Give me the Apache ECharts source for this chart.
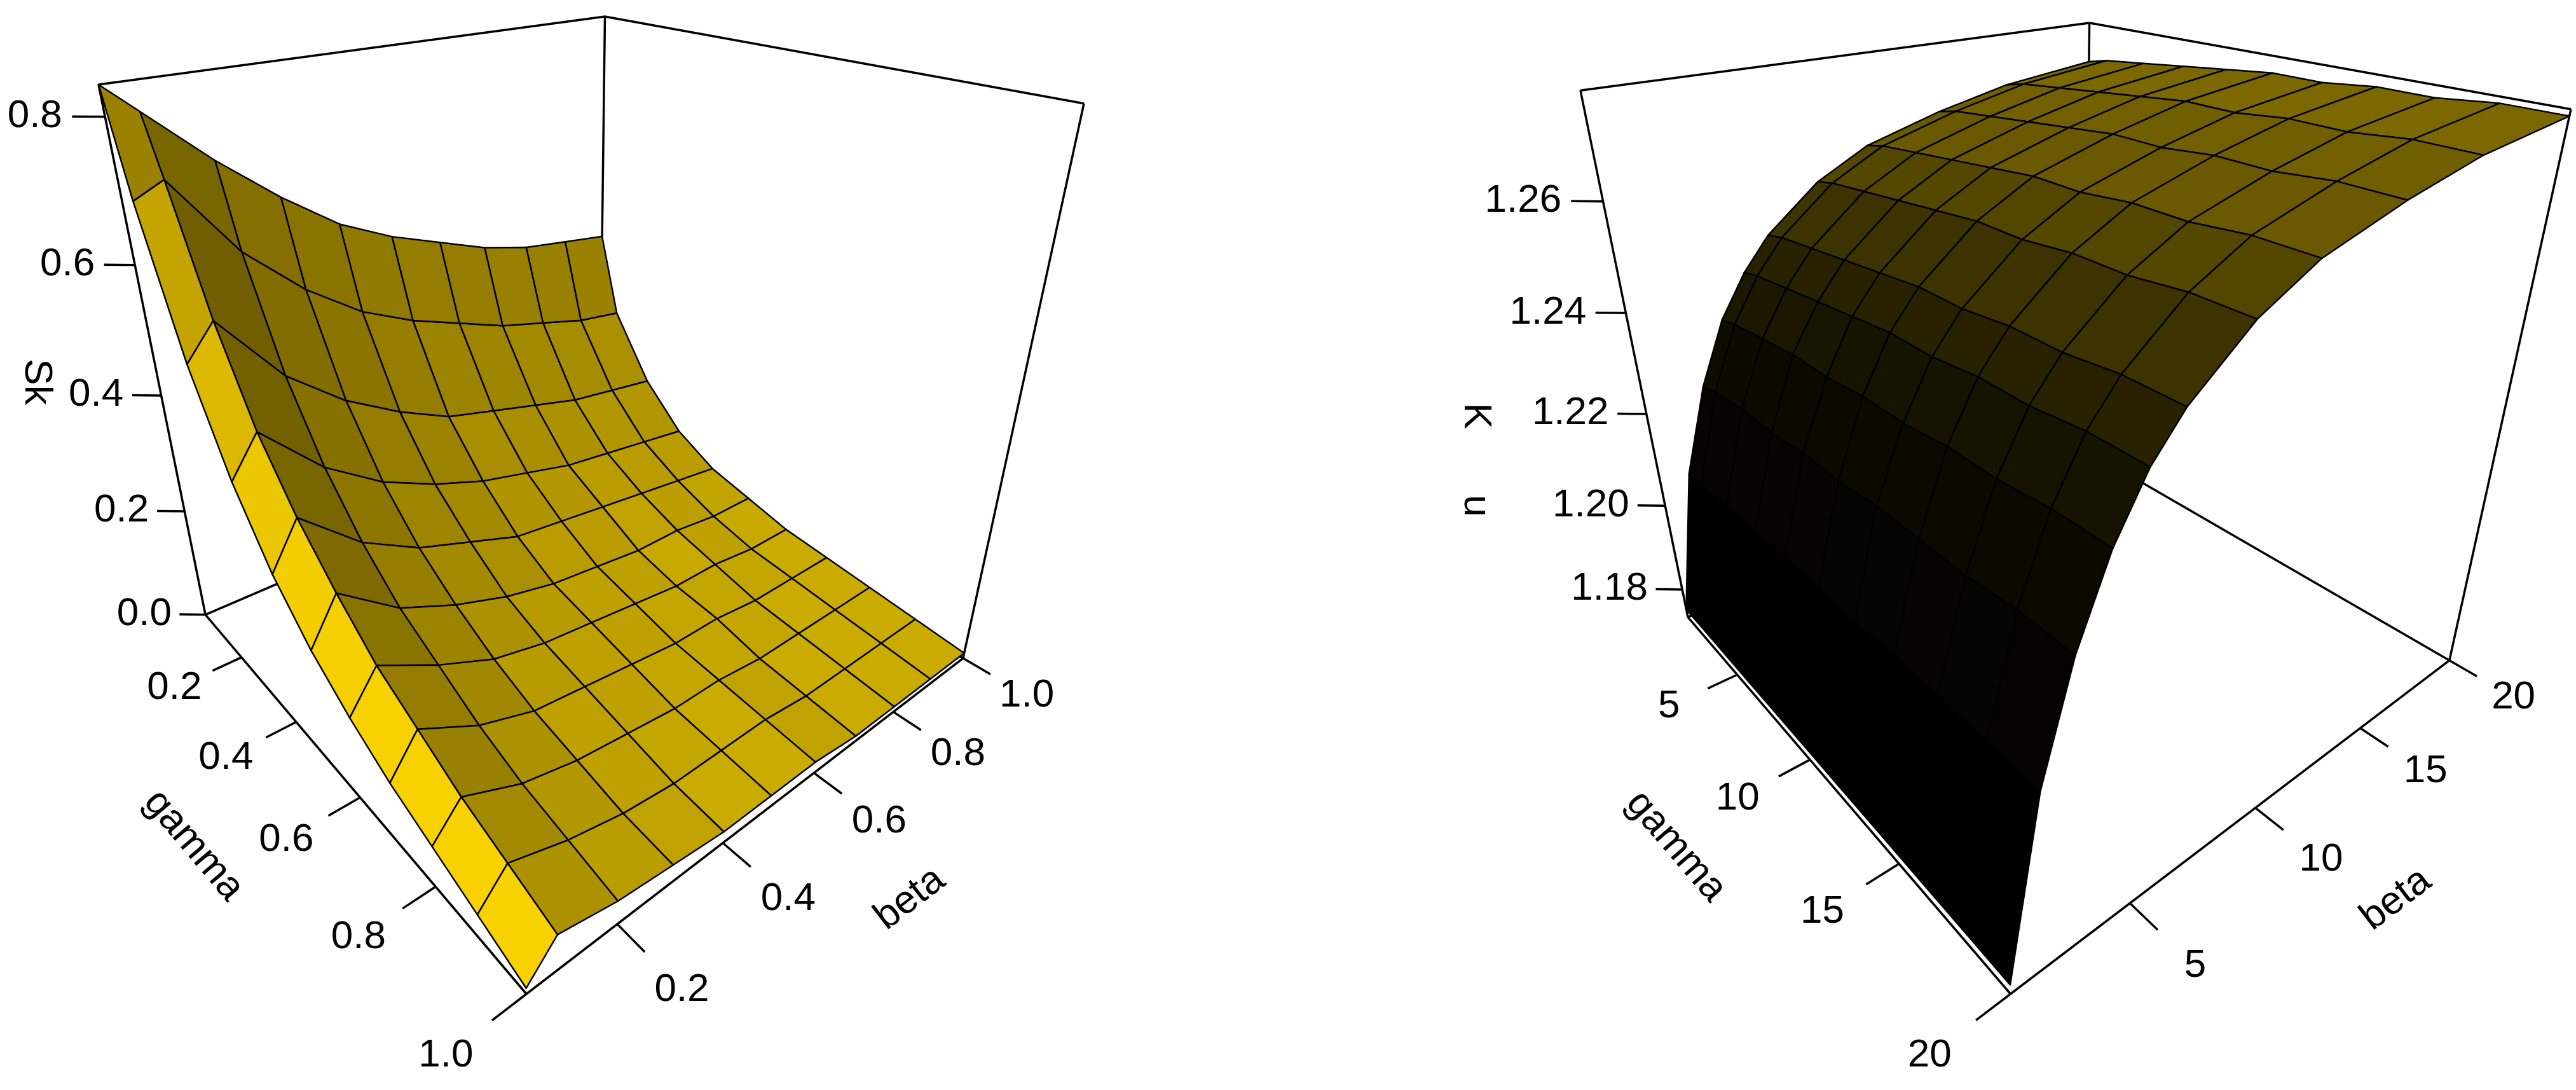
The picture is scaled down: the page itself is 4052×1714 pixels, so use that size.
<!DOCTYPE html>
<html>
<head>
<meta charset="utf-8">
<script src="https://cdn.jsdelivr.net/npm/echarts@6/dist/echarts.min.js"></script>
<style>html,body{margin:0;padding:0;background:#fff}#main{width:4052px;height:1714px}</style>
</head>
<body>
<div id="main"></div>
<script>
// ---- data (estimated) ----
const skGamma = [0.05, 0.1, 0.2, 0.3, 0.4, 0.5, 0.6, 0.7, 0.8, 0.9, 1.0];
const skBeta = [0.05, 0.1, 0.2, 0.3, 0.4, 0.5, 0.6, 0.7, 0.8, 0.9, 1.0];
// rows: gamma, columns: beta
const skValues = [
  [0.84, 0.80, 0.72, 0.65, 0.59, 0.55, 0.52, 0.49, 0.47, 0.46, 0.45],
  [0.70, 0.72, 0.60, 0.52, 0.46, 0.42, 0.39, 0.36, 0.34, 0.32, 0.31],
  [0.50, 0.55, 0.44, 0.37, 0.32, 0.28, 0.26, 0.24, 0.22, 0.21, 0.20],
  [0.36, 0.42, 0.33, 0.27, 0.23, 0.20, 0.18, 0.16, 0.15, 0.14, 0.13],
  [0.26, 0.33, 0.25, 0.20, 0.17, 0.14, 0.13, 0.12, 0.11, 0.10, 0.09],
  [0.19, 0.26, 0.19, 0.15, 0.12, 0.10, 0.09, 0.08, 0.08, 0.07, 0.07],
  [0.14, 0.20, 0.15, 0.11, 0.09, 0.08, 0.07, 0.06, 0.06, 0.05, 0.05],
  [0.10, 0.16, 0.11, 0.08, 0.07, 0.06, 0.05, 0.05, 0.04, 0.04, 0.04],
  [0.07, 0.12, 0.08, 0.06, 0.05, 0.04, 0.04, 0.03, 0.03, 0.03, 0.03],
  [0.04, 0.09, 0.06, 0.04, 0.03, 0.03, 0.03, 0.02, 0.02, 0.02, 0.02],
  [0.01, 0.06, 0.04, 0.03, 0.02, 0.02, 0.02, 0.01, 0.01, 0.01, 0.01]
];
const skZTicks = [0.0, 0.2, 0.4, 0.6, 0.8];
const skGammaTicks = [0.2, 0.4, 0.6, 0.8, 1.0];
const skBetaTicks = [0.2, 0.4, 0.6, 0.8, 1.0];

const kuGamma = [1, 2, 4, 6, 8, 10, 12, 14, 16, 18, 20];
const kuBeta = [1, 2, 3, 4, 5, 6, 8, 10, 13, 16, 20];
const kuValues = [
  [1.175, 1.205, 1.222, 1.234, 1.242, 1.248, 1.256, 1.261, 1.265, 1.268, 1.270],
  [1.175, 1.205, 1.223, 1.235, 1.243, 1.249, 1.257, 1.262, 1.266, 1.269, 1.271],
  [1.175, 1.206, 1.224, 1.236, 1.244, 1.250, 1.258, 1.263, 1.267, 1.270, 1.272],
  [1.175, 1.206, 1.224, 1.237, 1.245, 1.251, 1.259, 1.264, 1.268, 1.271, 1.273],
  [1.175, 1.207, 1.225, 1.237, 1.246, 1.252, 1.260, 1.265, 1.269, 1.272, 1.274],
  [1.175, 1.207, 1.225, 1.238, 1.247, 1.253, 1.261, 1.266, 1.270, 1.273, 1.275],
  [1.175, 1.207, 1.226, 1.238, 1.247, 1.253, 1.261, 1.266, 1.270, 1.273, 1.275],
  [1.175, 1.208, 1.226, 1.239, 1.248, 1.254, 1.262, 1.267, 1.271, 1.274, 1.276],
  [1.175, 1.208, 1.226, 1.239, 1.248, 1.254, 1.262, 1.267, 1.271, 1.274, 1.276],
  [1.175, 1.208, 1.227, 1.240, 1.249, 1.255, 1.263, 1.268, 1.272, 1.275, 1.277],
  [1.175, 1.208, 1.227, 1.240, 1.249, 1.255, 1.263, 1.268, 1.272, 1.275, 1.277]
];
const kuZTicks = [1.18, 1.20, 1.22, 1.24, 1.26];
const kuGammaTicks = [5, 10, 15, 20];
const kuBetaTicks = [5, 10, 15, 20];

const FONT = '"Liberation Sans", Arial, sans-serif';

function makePlot(p) {
  let t = p.theta * Math.PI / 180, ph = p.phi * Math.PI / 180;
  let ct = Math.cos(t), st = Math.sin(t), cp = Math.cos(ph), sp = Math.sin(ph);
  function proj(x, y, z) {
    let u = x * ct + y * st;
    let sd = -x * st + y * ct;
    let v = z * cp + sd * sp;
    let w = sd * cp - z * sp;
    let f = p.D / (p.D + w);
    return [u * f, v * f, w];
  }
  let nx = b => -1 + 2 * (b - p.bRange[0]) / (p.bRange[1] - p.bRange[0]);
  let ny = g => 1 - 2 * (g - p.gRange[0]) / (p.gRange[1] - p.gRange[0]);
  let nz = v => -1 + 2 * (v - p.zRange[0]) / (p.zRange[1] - p.zRange[0]);

  // box corners
  let corners = [];
  [-1, 1].forEach(x => [-1, 1].forEach(y => [-1, 1].forEach(z => corners.push([x, y, z]))));
  let pc = corners.map(c => proj(c[0], c[1], c[2]));
  let ext = {
    x0: Math.min(...pc.map(q => q[0])), x1: Math.max(...pc.map(q => q[0])),
    y0: Math.min(...pc.map(q => q[1])), y1: Math.max(...pc.map(q => q[1]))
  };
  let edges = [];
  for (let i = 0; i < 8; i++) for (let j = i + 1; j < 8; j++) {
    let a = corners[i], b = corners[j];
    let diff = Math.abs(a[0] - b[0]) + Math.abs(a[1] - b[1]) + Math.abs(a[2] - b[2]);
    if (diff !== 2) continue;
    let isFrontTop = c => c[0] === -1 && c[1] === -1 && c[2] === 1;
    if (isFrontTop(a) || isFrontTop(b)) continue;
    edges.push([proj(...a), proj(...b)]);
  }

  // facets
  let L = p.light, ln = Math.hypot(...L);
  L = L.map(q => q / ln);
  let facets = [];
  for (let i = 0; i < p.gamma.length - 1; i++) {
    for (let j = 0; j < p.beta.length - 1; j++) {
      let P = [[i, j], [i, j + 1], [i + 1, j + 1], [i + 1, j]].map(k =>
        [nx(p.beta[k[1]]), ny(p.gamma[k[0]]), nz(p.values[k[0]][k[1]])]);
      let d1 = P[2].map((q, k) => q - P[0][k]), d2 = P[3].map((q, k) => q - P[1][k]);
      let n = [d1[1] * d2[2] - d1[2] * d2[1], d1[2] * d2[0] - d1[0] * d2[2], d1[0] * d2[1] - d1[1] * d2[0]];
      let nn = Math.hypot(...n);
      n = n.map(q => q / nn);
      if (n[2] < 0) n = n.map(q => -q);
      let I = Math.pow((1 + n[0] * L[0] + n[1] * L[1] + n[2] * L[2]) / 2, p.shade);
      let col = 'rgb(' + p.color.map(c => Math.round(c * I)).join(',') + ')';
      let pp = P.map(q => proj(q[0], q[1], q[2]));
      let depth = pp.reduce((s, q) => s + q[2], 0) / 4;
      facets.push({ pts: pp.map(q => [q[0], q[1]]), depth, col });
    }
  }
  facets.sort((a, b) => b.depth - a.depth);

  // axes: ticks and labels
  let texts = [], ticks = [];
  function addAxis(list, pos, out, tickLen, labOff, fmt, align) {
    list.forEach(v => {
      let a = pos(v);
      let b = a.map((q, k) => q + out[k] * tickLen);
      let c = a.map((q, k) => q + out[k] * labOff);
      ticks.push([proj(...a), proj(...b)]);
      let pl = proj(...c);
      texts.push({ x: pl[0], y: pl[1], text: fmt(v), rot: 0, size: p.fontSize, align });
    });
  }
  addAxis(p.gTicks, g => [-1, ny(g), -1], [-1, 0, 0], 0.11, 0.25, p.gFmt, 'center');
  addAxis(p.bTicks, b => [nx(b), -1, -1], [0, -1, 0], 0.11, 0.25, p.bFmt, 'center');
  addAxis(p.zTicks, z => [-1, 1, nz(z)], [-0.75, 0.66, 0], 0.1, 0.13, p.zFmt, 'right');
  function addTitle(text, mid, out, off, along) {
    let c = mid.map((q, k) => q + out[k] * off);
    let pl = proj(...c);
    let a0 = proj(...along[0]), a1 = proj(...along[1]);
    texts.push({ x: pl[0], y: pl[1], text, size: p.fontSize, dir: [a0, a1] });
  }
  addTitle('gamma', [-1, 0, -1], [-1, 0, 0], 0.47, [[-1, 1, -1], [-1, -1, -1]]);
  addTitle('beta', [0, -1, -1], [0, -1, 0], 0.47, [[-1, -1, -1], [1, -1, -1]]);
  let q = proj(-1 - p.zTitleOff * 0.75, 1 + p.zTitleOff * 0.66, p.zTitleZ);
  texts.push({ x: q[0], y: q[1], text: p.zTitle, size: p.fontSize, rot: -Math.PI / 2 });

  return { ext, edges, facets, ticks, texts };
}

const plots = [
  makePlot({
    gamma: skGamma, beta: skBeta, values: skValues,
    gRange: [0.05, 1], bRange: [0.05, 1], zRange: [0, 0.84],
    theta: -40, phi: 28, D: 3.6, light: [-0.9, 0.1, 0.5], shade: 0.75, color: [255, 215, 0],
    gTicks: skGammaTicks, bTicks: skBetaTicks, zTicks: skZTicks,
    gFmt: v => v.toFixed(1), bFmt: v => v.toFixed(1), zFmt: v => v.toFixed(1),
    zTitle: 'Sk', zTitleOff: 0.42, zTitleZ: 0, fontSize: 62
  }),
  makePlot({
    gamma: kuGamma, beta: kuBeta, values: kuValues,
    gRange: [1, 20], bRange: [1, 20], zRange: [1.173, 1.278],
    theta: -40, phi: 28, D: 3.6, light: [0.95, 0, -0.15], shade: 0.75, color: [255, 215, 0],
    gTicks: kuGammaTicks, bTicks: kuBetaTicks, zTicks: kuZTicks,
    gFmt: v => String(v), bFmt: v => String(v), zFmt: v => v.toFixed(2),
    zTitle: 'K      u', zTitleOff: 0.64, zTitleZ: -0.3, fontSize: 62
  })
];
const rects = [
  { left: 155, top: 26, width: 1550, height: 1537 },
  { left: 2486, top: 36, width: 1558, height: 1527 }
];

const chart = echarts.init(document.getElementById('main'), null, { renderer: 'canvas' });
const grids = [], xAxes = [], yAxes = [], series = [];
plots.forEach((pl, k) => {
  grids.push(rects[k]);
  xAxes.push({ type: 'value', gridIndex: k, min: pl.ext.x0, max: pl.ext.x1, show: false });
  yAxes.push({ type: 'value', gridIndex: k, min: pl.ext.y0, max: pl.ext.y1, show: false });
  const base = { type: 'custom', xAxisIndex: k, yAxisIndex: k, clip: false, silent: true, animation: false };
  const lineItem = (e, api) => {
    const a = api.coord([e[0][0], e[0][1]]), b = api.coord([e[1][0], e[1][1]]);
    return { type: 'line', shape: { x1: a[0], y1: a[1], x2: b[0], y2: b[1] }, style: { stroke: '#000', lineWidth: 3.5 } };
  };
  series.push(Object.assign({}, base, {
    data: pl.edges.map((e, i) => i),
    renderItem: (params, api) => lineItem(pl.edges[params.dataIndex], api)
  }));
  series.push(Object.assign({}, base, {
    data: pl.facets.map((f, i) => i),
    renderItem: (params, api) => {
      const f = pl.facets[params.dataIndex];
      return {
        type: 'polygon', shape: { points: f.pts.map(q => api.coord(q)) },
        style: { fill: f.col, stroke: '#000', lineWidth: 2.5, lineJoin: 'round' }
      };
    }
  }));
  series.push(Object.assign({}, base, {
    data: pl.ticks.map((e, i) => i),
    renderItem: (params, api) => lineItem(pl.ticks[params.dataIndex], api)
  }));
  series.push(Object.assign({}, base, {
    data: pl.texts.map((e, i) => i),
    renderItem: (params, api) => {
      const tx = pl.texts[params.dataIndex];
      const c = api.coord([tx.x, tx.y]);
      let rot = tx.rot || 0;
      if (tx.dir) {
        const a = api.coord([tx.dir[0][0], tx.dir[0][1]]), b = api.coord([tx.dir[1][0], tx.dir[1][1]]);
        rot = -Math.atan2(b[1] - a[1], b[0] - a[0]);
      }
      return {
        type: 'text', x: c[0], y: c[1], rotation: rot,
        style: { text: tx.text, fontSize: tx.size, fontFamily: FONT, fill: '#000', align: tx.align || 'center', verticalAlign: 'middle' }
      };
    }
  }));
});

chart.setOption({ backgroundColor: '#fff', animation: false, grid: grids, xAxis: xAxes, yAxis: yAxes, series });
</script>
</body>
</html>
